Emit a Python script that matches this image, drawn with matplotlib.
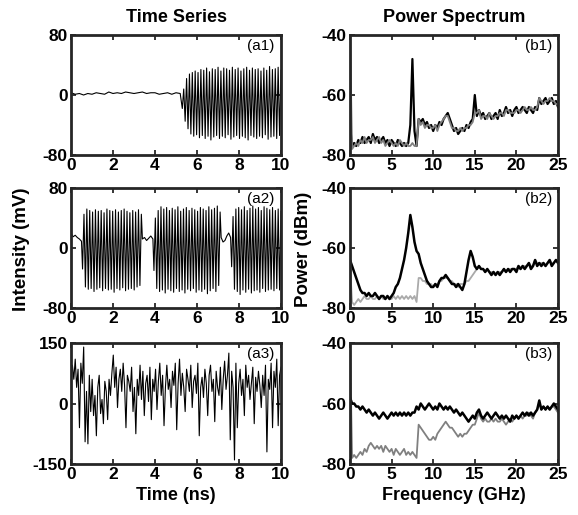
import numpy as np
import matplotlib
matplotlib.use('Agg')
import matplotlib.pyplot as plt

plt.rcParams['font.family'] = ['Liberation Sans', 'DejaVu Sans']
plt.rcParams['axes.unicode_minus'] = False

# ---- time series (mV) ----
a1_quiet = [3, 1, 2, 0, 2, 1, 3, 2, 1, 4, 2, 3, 2, 4, 3, 2, 3, 4, 2, 3, 3, 1, 2, 3, 1, 3, 2]
a1_peaks = [8, 22, 28, 30, 32, 30, 34, 33, 36, 31, 35, 34, 37, 32, 36, 35, 33, 37, 34, 36,
            32, 35, 37, 33, 36, 34, 35, 32, 36, 33, 38, 34, 35, 37, 33]
a1_troughs = [-18, -35, -45, -52, -55, -53, -57, -54, -58, -55, -60, -56, -54, -58, -55, -57, -53, -59, -56, -54,
              -58, -55, -57, -60, -54, -56, -58, -55, -57, -53, -59, -56, -55, -58, -54]

a2_quiet1 = [20, 15, 17, 14, 12, 9]
a2_peaks1 = [45, 52, 50, 48, 51, 49, 50, 47, 52, 50, 49, 51, 48, 50, 52, 49, 47, 50, 48, 51, 45]
a2_troughs1 = [-28, -52, -55, -54, -58, -55, -53, -57, -54, -56, -55, -59, -54, -56, -53, -57, -55, -54, -56, -52, -50]
a2_quiet2 = [12, 14, 10, 13, 16, 12]
a2_peaks2 = [40, 50, 55, 52, 54, 50, 53, 51, 55, 49, 52, 54, 50, 53, 51, 49, 54, 52, 50, 55, 51, 53, 56, 48]
a2_troughs2 = [-30, -54, -58, -56, -60, -55, -57, -59, -54, -58, -56, -60, -55, -57, -54, -59, -56, -58, -55, -61,
               -57, -54, -58, -50]
a2_quiet3 = [14, 8, 10, 16, 20, 14]
a2_peaks3 = [42, 52, 54, 51, 55, 50, 53, 56, 52, 54, 50, 55, 53, 51, 54, 50, 52, 49]
a2_troughs3 = [-25, -55, -58, -62, -56, -59, -55, -60, -57, -56, -59, -54, -58, -56, -55, -57, -54, -56]

a3_vals = [70, 95, 60, 110, 40, 85, -60, 100, 50, 140, -95, 30, -100, 70, -20,
           60, -30, 20, -80, 40, 70, -25, 10, -50, 55, 30, -40, 60, 20, 75,
           120, 40, 90, -10, 60, 85, 30, 100, 45, -60, 70, 55, 30, 90, -20,
           40, -75, 60, 20, 95, 10, 80, -30, 50, 70, 5, 90, -40, 60, 30,
           85, -15, 55, 100, 20, 70, -55, 40, 95, 35, 60, -10, 80, 45, 100,
           -65, 50, 110, 20, 75, 40, -20, 85, 60, 30, 95, -10, 55, 70, 25,
           100, -80, 40, 65, 15, 85, 50, -30, 70, 95, 30, 60, -45, 80, 40,
           20, 90, -15, 60, 105, 35, 70, 125, -90, 80, 40, -140, 100, -60, 50,
           85, 20, 60, -30, 95, 40, 70, 10, 50, 90, -50, 65, 30, 80, 45,
           -10, 70, 20, 95, -120, 60, 35, 100, -60, 80, 40, 110, -55, 70, 90]

# ---- power spectra (dBm), 0.25 GHz steps from 0 to 25 GHz ----
b1_black = [-70, -77, -76, -77, -75, -76, -74, -76, -75, -74,
            -76, -73, -75, -74, -76, -75, -74, -76, -75, -77,
            -75, -76, -77, -75, -76, -77, -76, -77, -76, -70,
            -48, -72, -77, -68, -69, -68, -70, -69, -71, -70,
            -72, -70, -71, -69, -70, -68, -67, -66, -68, -70,
            -72, -71, -73, -72, -71, -72, -70, -71, -69, -68,
            -60, -67, -65, -67, -66, -68, -67, -66, -68, -67,
            -66, -68, -65, -67, -66, -64, -66, -65, -67, -65,
            -64, -66, -65, -64, -65, -66, -64, -65, -66, -64,
            -65, -61, -63, -62, -61, -63, -62, -61, -63, -62,
            -64]
b1_gray = [-40, -78, -77, -76, -77, -75, -76, -74, -76, -75,
           -75, -74, -76, -75, -74, -76, -75, -77, -76, -75,
           -76, -77, -76, -77, -75, -76, -77, -76, -77, -77,
           -76, -77, -77, -68, -70, -69, -71, -70, -70, -71,
           -71, -70, -72, -70, -69, -68, -67, -67, -69, -71,
           -71, -72, -72, -71, -72, -71, -71, -70, -70, -69,
           -66, -66, -65, -68, -67, -67, -68, -66, -67, -68,
           -67, -67, -66, -66, -67, -65, -65, -66, -66, -66,
           -65, -65, -66, -65, -64, -65, -65, -64, -65, -65,
           -64, -61, -62, -63, -62, -62, -61, -62, -62, -63,
           -63]
b2_black = [-64, -66, -68, -70, -72, -74, -75, -75, -76, -75,
            -76, -76, -75, -76, -77, -76, -76, -77, -76, -77,
            -76, -75, -73, -72, -70, -67, -64, -60, -55, -49,
            -53, -58, -61, -62, -65, -67, -69, -71, -72, -73,
            -73, -72, -73, -71, -70, -70, -69, -70, -71, -72,
            -72, -73, -72, -73, -74, -72, -68, -64, -61, -63,
            -66, -67, -66, -67, -67, -68, -67, -68, -69, -68,
            -69, -68, -69, -68, -67, -68, -67, -68, -67, -67,
            -68, -66, -67, -66, -67, -66, -65, -67, -66, -64,
            -66, -65, -66, -65, -66, -65, -64, -66, -65, -64,
            -65]
b2_gray = [-66, -78, -79, -78, -77, -78, -77, -76, -77, -77,
           -76, -77, -77, -76, -77, -76, -77, -77, -76, -77,
           -77, -76, -77, -76, -77, -76, -77, -76, -77, -76,
           -77, -76, -78, -70, -70, -71, -71, -72, -72, -72,
           -73, -72, -72, -71, -71, -70, -70, -70, -71, -71,
           -72, -72, -73, -72, -72, -72, -71, -71, -70, -69,
           -68, -67, -66, -67, -67, -68, -67, -68, -68, -68,
           -69, -68, -68, -68, -67, -68, -67, -67, -67, -67,
           -67, -66, -67, -66, -66, -66, -65, -66, -66, -64,
           -65, -65, -65, -65, -66, -65, -64, -65, -65, -64,
           -65]
b3_black = [-58, -60, -60, -61, -61, -62, -61, -62, -63, -62,
            -63, -64, -63, -64, -65, -64, -63, -64, -65, -64,
            -63, -64, -63, -64, -63, -64, -63, -64, -63, -64,
            -63, -63, -61, -62, -60, -61, -62, -61, -60, -61,
            -62, -61, -62, -60, -61, -62, -61, -62, -61, -62,
            -63, -62, -63, -64, -63, -64, -65, -66, -65, -64,
            -65, -63, -62, -64, -65, -64, -63, -64, -65, -64,
            -63, -64, -65, -64, -65, -64, -65, -66, -64, -65,
            -64, -65, -64, -63, -64, -63, -64, -63, -64, -63,
            -62, -59, -62, -61, -62, -61, -62, -61, -60, -61,
            -62]
b3_gray = [-40, -78, -77, -78, -77, -76, -77, -75, -76, -74,
           -73, -74, -75, -74, -75, -74, -76, -74, -75, -76,
           -75, -77, -75, -76, -77, -76, -75, -77, -76, -77,
           -76, -77, -78, -67, -68, -69, -70, -71, -72, -72,
           -71, -72, -70, -69, -68, -67, -66, -67, -68, -68,
           -69, -70, -71, -70, -71, -70, -70, -69, -68, -67,
           -67, -65, -63, -65, -66, -65, -66, -66, -65, -66,
           -65, -66, -66, -65, -66, -67, -66, -65, -66, -65,
           -64, -65, -64, -65, -64, -64, -63, -64, -65, -63,
           -62, -60, -62, -61, -62, -61, -62, -61, -61, -62,
           -63]


def burst(t0, t1, peaks, troughs):
    v = []
    for lo, hi in zip(troughs, peaks):
        v += [lo, hi]
    return np.linspace(t0, t1, len(v)), np.array(v)


def quiet(t0, t1, vals):
    return np.linspace(t0, t1, len(vals)), np.array(vals)


segs1 = [quiet(0, 5.2, a1_quiet), burst(5.3, 10, a1_peaks, a1_troughs)]
segs2 = [quiet(0, 0.5, a2_quiet1), burst(0.55, 3.35, a2_peaks1, a2_troughs1),
         quiet(3.4, 3.9, a2_quiet2), burst(3.95, 7.1, a2_peaks2, a2_troughs2),
         quiet(7.15, 7.6, a2_quiet3), burst(7.65, 10, a2_peaks3, a2_troughs3)]
t1 = np.concatenate([s[0] for s in segs1]); y1 = np.concatenate([s[1] for s in segs1])
t2 = np.concatenate([s[0] for s in segs2]); y2 = np.concatenate([s[1] for s in segs2])
t3 = np.linspace(0, 10, len(a3_vals))

fig = plt.figure(figsize=(5.78, 5.15), dpi=100)
W, H = 578, 515
def place(l, t, r, b):
    return fig.add_axes([l / W, 1 - b / H, (r - l) / W, (b - t) / H])

rows = [(35, 155), (188, 308), (343, 464)]
left_axes = [place(71, t, 281, b) for t, b in rows]
right_axes = [place(350, t, 558, b) for t, b in rows]

def style(ax):
    for s in ax.spines.values():
        s.set_linewidth(2.0)
        s.set_color('#262626')
    ax.tick_params(direction='in', top=True, right=True, length=3.5, width=1.3,
                   labelsize=12.5, pad=2.5, color='#262626')
    for lab in ax.get_xticklabels() + ax.get_yticklabels():
        lab.set_fontweight('bold')

ts = [(t1, y1, 80), (t2, y2, 80), (t3, np.array(a3_vals), 150)]
for i, (ax, (t, y, lim)) in enumerate(zip(left_axes, ts)):
    ax.plot(t, y, color='black', lw=0.8)
    ax.set_xlim(0, 10)
    ax.set_ylim(-lim, lim)
    ax.set_xticks([0, 2, 4, 6, 8, 10])
    ax.set_yticks([-lim, 0, lim])
    ax.text(0.97, 0.965, '(a%d)' % (i + 1), transform=ax.transAxes, ha='right', va='top', fontsize=11)
    style(ax)

f = np.linspace(0, 25, 101)
spec = [(b1_black, b1_gray, '#7f7f7f', True), (b2_black, b2_gray, '#aaaaaa', False),
        (b3_black, b3_gray, '#808080', False)]
for i, (ax, (bk, gr, gc, gray_top)) in enumerate(zip(right_axes, spec)):
    if gray_top:
        ax.plot(f, bk, color='black', lw=1.6)
        ax.plot(f, gr, color=gc, lw=1.3)
    else:
        ax.plot(f, gr, color=gc, lw=1.3)
        ax.plot(f, bk, color='black', lw=1.8)
    ax.set_xlim(0, 25)
    ax.set_ylim(-80, -40)
    ax.set_xticks([0, 5, 10, 15, 20, 25])
    ax.set_yticks([-80, -60, -40])
    ax.text(0.97, 0.965, '(b%d)' % (i + 1), transform=ax.transAxes, ha='right', va='top', fontsize=11)
    style(ax)

left_axes[0].set_title('Time Series', fontsize=13, fontweight='bold', pad=9)
right_axes[0].set_title('Power Spectrum', fontsize=13, fontweight='bold', pad=9)
left_axes[2].set_xlabel('Time (ns)', fontsize=13, fontweight='bold', labelpad=3)
right_axes[2].set_xlabel('Frequency (GHz)', fontsize=13, fontweight='bold', labelpad=3)
fig.text(22 / W, 1 - 249 / H, 'Intensity (mV)', rotation=90, ha='center', va='center',
         fontsize=13.5, fontweight='bold')
fig.text(303 / W, 1 - 249 / H, 'Power (dBm)', rotation=90, ha='center', va='center',
         fontsize=13.5, fontweight='bold')

fig.savefig('out.png', dpi=100)
